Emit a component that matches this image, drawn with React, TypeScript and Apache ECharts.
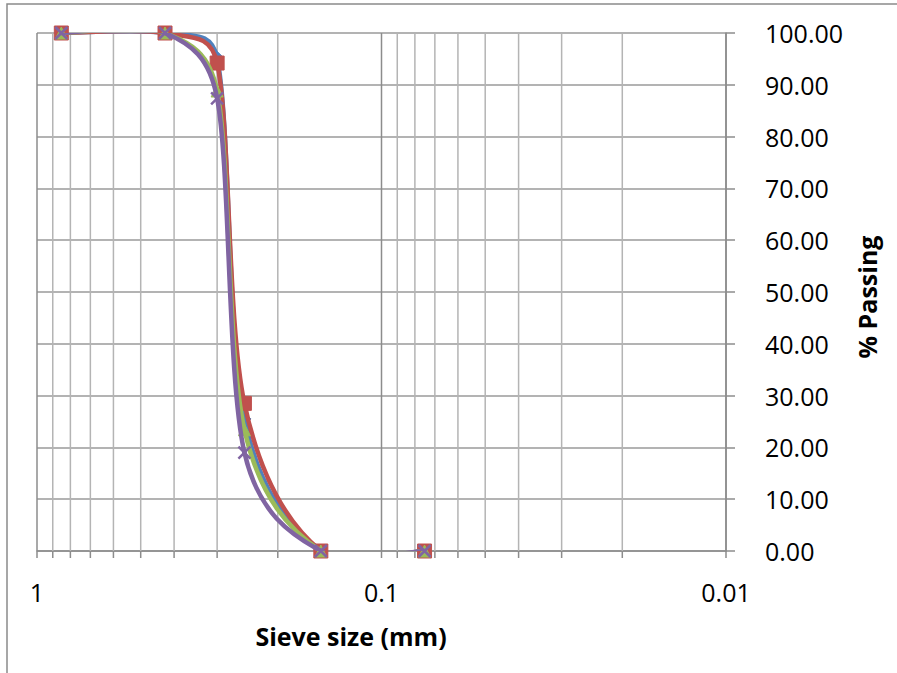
import React, { useEffect, useRef } from "react";
import * as echarts from "echarts";

const sieveSizes = [0.85, 0.425, 0.3, 0.25, 0.15, 0.075];
const blueValues = [100, 100, 95.2, 25.5, 0, 0];
const redValues = [100, 100, 94.2, 28.5, 0, 0];
const greenValues = [100, 100, 88.8, 23.4, 0, 0];
const purpleValues = [100, 100, 87.4, 19.0, 0, 0];
const majorTicks = [1, 0.1, 0.01];
const minorTicks = [0.9, 0.8, 0.7, 0.6, 0.5, 0.4, 0.3, 0.2, 0.09, 0.08, 0.07, 0.06, 0.05, 0.04, 0.03, 0.02];

const FONT = "'Open Sans', 'Liberation Sans', sans-serif";

function pairs(vals: number[]) {
  return sieveSizes.map((s, i) => [s, vals[i]]);
}

// segments: each item carries its neighbour points so the curve can be smoothed
function segments(vals: number[]) {
  const n = sieveSizes.length;
  const out: number[][] = [];
  for (let i = 0; i < n - 1; i++) {
    const a = Math.max(i - 1, 0);
    const d = Math.min(i + 2, n - 1);
    out.push([
      sieveSizes[a], vals[a],
      sieveSizes[i], vals[i],
      sieveSizes[i + 1], vals[i + 1],
      sieveSizes[d], vals[d],
    ]);
  }
  return out;
}

function ctrl(from: number[], a: number[], b: number[], seg: number, sign: number) {
  const dx = b[0] - a[0];
  const dy = b[1] - a[1];
  const len = Math.hypot(dx, dy);
  if (len === 0) return [from[0], from[1]];
  const mag = Math.min(len / 6, seg / 2);
  return [from[0] + (sign * dx * mag) / len, from[1] + (sign * dy * mag) / len];
}

export default function App() {
  const ref = useRef<HTMLDivElement>(null);
  useEffect(() => {
    if (!ref.current) return;
    const chart = echarts.init(ref.current, null, { renderer: "svg" });
    const gridData = [
      ...majorTicks.map((v) => [v, 1]),
      ...minorTicks.map((v) => [v, 0]),
    ];
    const curve = (vals: number[], color: string, z: number) => ({
      type: "custom",
      silent: true,
      clip: true,
      z,
      data: segments(vals),
      encode: { x: 2, y: 3 },
      renderItem: (params: any, api: any) => {
        const p0 = api.coord([api.value(0), api.value(1)]);
        const p1 = api.coord([api.value(2), api.value(3)]);
        const p2 = api.coord([api.value(4), api.value(5)]);
        const p3 = api.coord([api.value(6), api.value(7)]);
        const seg = Math.hypot(p2[0] - p1[0], p2[1] - p1[1]);
        const c1 = ctrl(p1, p0, p2, seg, 1);
        const c2 = ctrl(p2, p1, p3, seg, -1);
        return {
          type: "bezierCurve",
          shape: {
            x1: p1[0],
            y1: p1[1],
            x2: p2[0],
            y2: p2[1],
            cpx1: c1[0],
            cpy1: c1[1],
            cpx2: c2[0],
            cpy2: c2[1],
          },
          style: { stroke: color, lineWidth: 4.5, fill: "none", lineCap: "round" },
        };
      },
    });
    const markers = (vals: number[], color: string, symbol: string, size: number, z: number, bw = 1) => ({
      type: "scatter",
      data: pairs(vals),
      symbol,
      symbolSize: size,
      silent: true,
      clip: false,
      z,
      itemStyle: { color, borderColor: color, borderWidth: bw, opacity: 1 },
    });
    chart.setOption({
      animation: false,
      backgroundColor: "#ffffff",
      grid: { left: 37, right: 171, top: 33, bottom: 122, containLabel: false },
      xAxis: {
        type: "log",
        logBase: 10,
        min: 0.01,
        max: 1,
        inverse: true,
        axisLine: { show: true, lineStyle: { color: "#8c8c8c", width: 1.5 } },
        axisTick: { show: false },
        splitLine: { show: false },
        axisLabel: {
          color: "#000",
          fontFamily: FONT,
          fontSize: 25,
          margin: 28,
          formatter: (v: number) => String(Number(v.toPrecision(3))),
        },
      },
      yAxis: {
        type: "value",
        position: "right",
        min: 0,
        max: 100,
        interval: 10,
        axisLine: { show: true, lineStyle: { color: "#8c8c8c", width: 1.5 } },
        axisTick: { show: true, length: 9, inside: false, lineStyle: { color: "#8c8c8c", width: 1.5 } },
        splitLine: { show: true, lineStyle: { color: "#9a9a9a", width: 1.5 } },
        axisLabel: {
          color: "#000",
          fontFamily: FONT,
          fontSize: 25,
          margin: 39,
          formatter: (v: number) => v.toFixed(2),
        },
      },
      graphic: [
        {
          type: "rect",
          shape: { x: 7, y: 4, width: 1000, height: 1000 },
          style: { fill: "none", stroke: "#8a8a8a", lineWidth: 1.5 },
          silent: true,
          z: -10,
        },
        {
          type: "text",
          x: 351,
          y: 636,
          style: {
            text: "Sieve size (mm)",
            font: `bold 25px ${FONT}`,
            fill: "#000",
            align: "center",
            verticalAlign: "middle",
          },
        },
        {
          type: "text",
          x: 867,
          y: 297,
          rotation: Math.PI / 2,
          style: {
            text: "% Passing",
            font: `bold 25px ${FONT}`,
            fill: "#000",
            align: "center",
            verticalAlign: "middle",
          },
        },
      ],
      series: [
        {
          type: "custom",
          silent: true,
          z: 1,
          clip: false,
          data: gridData,
          renderItem: (params: any, api: any) => {
            const v = api.value(0);
            const major = api.value(1) === 1;
            const top = api.coord([v, 100]);
            const bot = api.coord([v, 0]);
            const color = major ? "#8c8c8c" : "#b4b4b4";
            return {
              type: "group",
              children: [
                {
                  type: "line",
                  shape: { x1: top[0], y1: top[1], x2: bot[0], y2: bot[1] },
                  style: { stroke: color, lineWidth: 1.5 },
                },
                {
                  type: "line",
                  shape: { x1: bot[0], y1: bot[1], x2: bot[0], y2: bot[1] + 7 },
                  style: { stroke: "#8c8c8c", lineWidth: 1.5 },
                },
              ],
            };
          },
        },
        curve(blueValues, "#4F81BD", 2),
        markers(blueValues, "#4F81BD", "diamond", 13, 3),
        curve(redValues, "#C0504D", 4),
        markers(redValues, "#C0504D", "rect", 14, 5),
        curve(greenValues, "#9BBB59", 6),
        markers(greenValues, "#9BBB59", "triangle", 12, 7),
        curve(purpleValues, "#8064A2", 8),
        markers(purpleValues, "#8064A2", "path://M0,0L10,10M10,0L0,10", 12, 9, 2.5),
      ],
    });
    return () => chart.dispose();
  }, []);
  return (
    <div
      ref={ref}
      style={{ position: "fixed", left: 0, top: 0, width: 897, height: 673, background: "#fff" }}
    />
  );
}
